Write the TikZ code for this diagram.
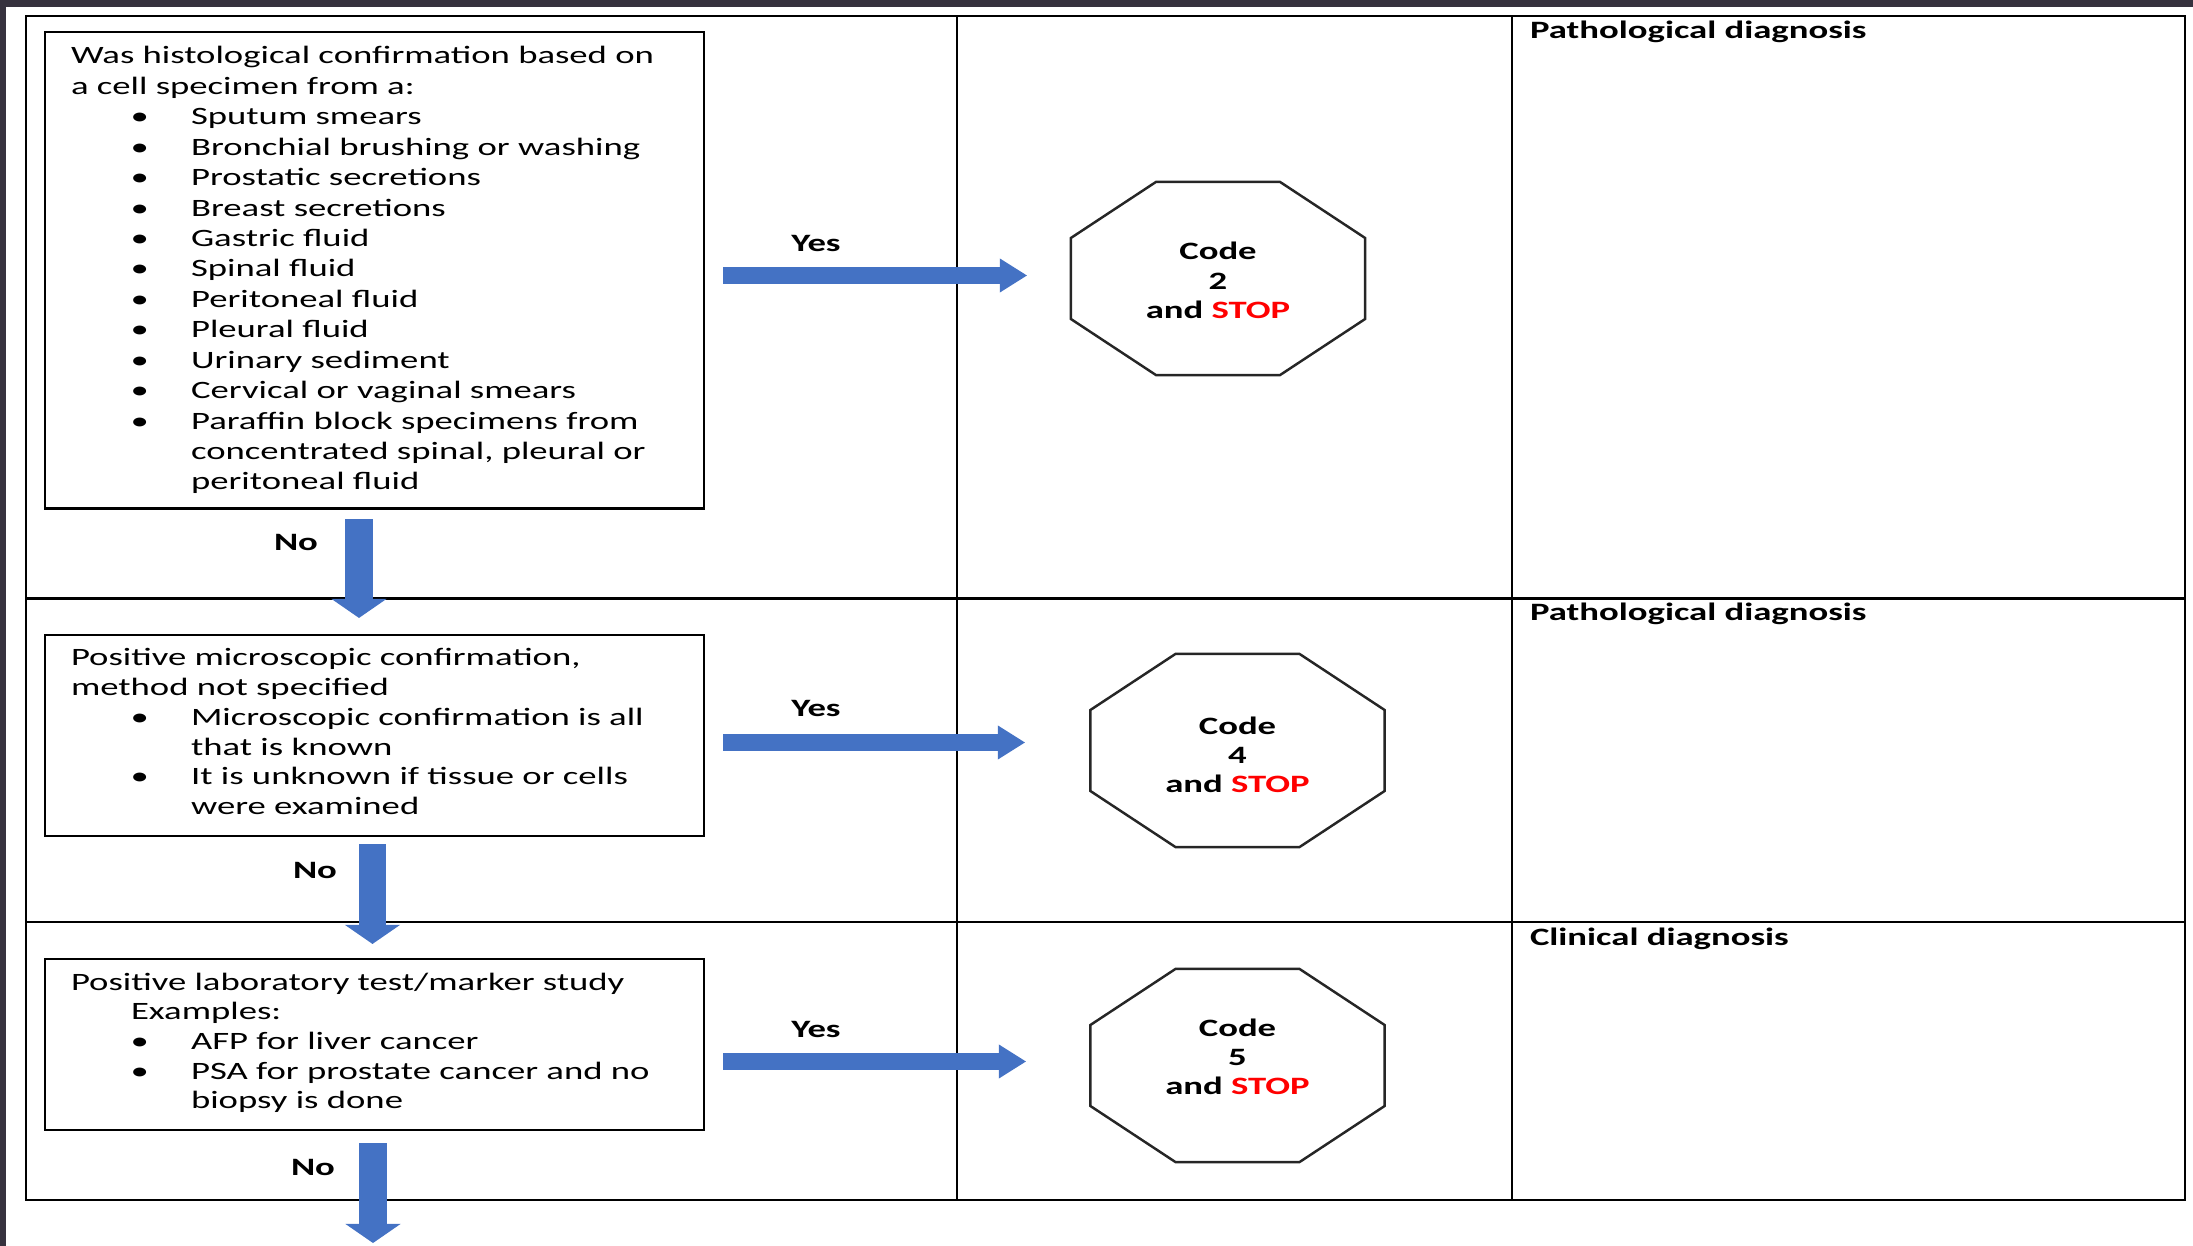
\documentclass[tikz,border=0pt]{standalone}
\usepackage{fontspec}
\setmainfont{Carlito}[FakeStretch=1.47]
\usetikzlibrary{arrows.meta}

\definecolor{arrowblue}{HTML}{4472C4}
\definecolor{framedark}{HTML}{36323E}
\definecolor{stopred}{HTML}{FF0000}

% bulleted line and its continuation inside a question box
\newcommand\bulline[1]{\hspace*{0.595cm}\makebox[0.605cm][l]{\textbullet}#1}
\newcommand\contline[1]{\hspace*{1.2cm}#1}

% octagonal outline drawn round a placeholder node
\newcommand\stopsign[1]{%
  \draw[octline] ([xshift=0.85cm]#1.north west) -- ([xshift=-0.85cm]#1.north east)
    -- ([yshift=-0.56cm]#1.north east) -- ([yshift=0.56cm]#1.south east)
    -- ([xshift=-0.85cm]#1.south east) -- ([xshift=0.85cm]#1.south west)
    -- ([yshift=0.56cm]#1.south west) -- ([yshift=-0.56cm]#1.north west) -- cycle;}

\begin{document}
\begin{tikzpicture}[x=0.01cm, y=-0.01cm,
  every node/.style={inner sep=0pt, outer sep=0pt},
  grid/.style={draw=black, line width=0.75pt},
  qbox/.style={draw=black, line width=0.7pt, rectangle, minimum width=6.59cm},
  body/.style={font=\fontsize{7.1pt}{8.65pt}\selectfont, text width=6.3cm, align=left, anchor=base west},
  bodytight/.style={body, font=\fontsize{7.1pt}{8.45pt}\selectfont},
  lbl/.style={font=\fontsize{7.1pt}{8.65pt}\selectfont\bfseries, anchor=base},
  head/.style={font=\fontsize{7.1pt}{8.65pt}\selectfont\bfseries, anchor=base west},
  codetxt/.style={font=\fontsize{7.1pt}{8.25pt}\selectfont\bfseries, text width=2.6cm, align=center, anchor=base},
  octbox/.style={rectangle, minimum width=2.94cm, minimum height=1.93cm},
  octline/.style={draw=black!85, line width=0.7pt, line join=miter},
  yesarrow/.style={draw=arrowblue, line width=0.16cm,
    -{Triangle[width=0.34cm, length=0.27cm, line width=0pt]}},
  noarrow/.style={draw=arrowblue, line width=0.27cm,
    -{Triangle[width=0.55cm, length=0.19cm, line width=0pt]}}
]
\useasboundingbox (0,0) rectangle (2193,1246);

% dark frame strips
\fill[framedark] (0,0) rectangle (2193,7);
\fill[framedark] (0,0) rectangle (6,1246);

% table grid
\draw[grid] (26,16) rectangle (2185,1200);
\draw[grid] (957,16) -- (957,1200);
\draw[grid] (1512,16) -- (1512,1200);
\draw[grid] (26,598.5) -- (2185,598.5);
\draw[grid] (26,922) -- (2185,922);

% question boxes
\node[qbox, minimum height=4.765cm] (q1) at (374.5,270.25) {};
\node[qbox, minimum height=2.01cm] (q2) at (374.5,735.5) {};
\node[qbox, minimum height=1.71cm] (q3) at (374.5,1044.5) {};

\node[body] (q1text) at (71,64) {Was histological confirmation based on\\
a cell specimen from a:\\
\bulline{Sputum smears}\\
\bulline{Bronchial brushing or washing}\\
\bulline{Prostatic secretions}\\
\bulline{Breast secretions}\\
\bulline{Gastric fluid}\\
\bulline{Spinal fluid}\\
\bulline{Peritoneal fluid}\\
\bulline{Pleural fluid}\\
\bulline{Urinary sediment}\\
\bulline{Cervical or vaginal smears}\\
\bulline{Paraffin block specimens from}\\
\contline{concentrated spinal, pleural or}\\
\contline{peritoneal fluid}};

\node[bodytight] (q2text) at (71,666) {Positive microscopic confirmation,\\
method not specified\\
\bulline{Microscopic confirmation is all}\\
\contline{that is known}\\
\bulline{It is unknown if tissue or cells}\\
\contline{were examined}};

\node[bodytight] (q3text) at (71,990) {Positive laboratory test/marker study\\
\hspace*{0.6cm}Examples:\\
\bulline{AFP for liver cancer}\\
\bulline{PSA for prostate cancer and no}\\
\contline{biopsy is done}};

% stop signs
\node[octbox] (s1) at (1218,278.5) {};
\node[octbox] (s2) at (1237.5,750.5) {};
\node[octbox] (s3) at (1237.5,1065.5) {};
\stopsign{s1}
\stopsign{s2}
\stopsign{s3}
\node[codetxt] (s1text) at (1218,260) {Code\\2\\and \textcolor{stopred}{STOP}};
\node[codetxt] (s2text) at (1237.5,734.3) {Code\\4\\and \textcolor{stopred}{STOP}};
\node[codetxt] (s3text) at (1237.5,1036.7) {Code\\5\\and \textcolor{stopred}{STOP}};

% diagnosis headings
\node[head] (h1) at (1530,39) {Pathological diagnosis};
\node[head] (h2) at (1530,620.7) {Pathological diagnosis};
\node[head] (h3) at (1530,945) {Clinical diagnosis};

% connectors
\draw[noarrow] ([shift={(-15.5,10.5)}]q1.south) -- ([shift={(-15.5,-17)}]q2.north);
\draw[noarrow] ([shift={(-2,8)}]q2.south) -- ([shift={(-2,-15)}]q3.north);
\coordinate (onward) at (373,1243);
\draw[noarrow] ([shift={(-1.5,13)}]q3.south) -- (onward);
\draw[yesarrow] ([shift={(19,5.25)}]q1.east) -- ([shift={(-44,-3)}]s1.west);
\draw[yesarrow] ([shift={(19,7)}]q2.east) -- ([shift={(-65.5,-8)}]s2.west);
\draw[yesarrow] ([shift={(19,17)}]q3.east) -- ([shift={(-64.5,-4)}]s3.west);

% connector labels
\node[lbl] (yes1) at (816,252) {Yes};
\node[lbl] (yes2) at (816,717) {Yes};
\node[lbl] (yes3) at (816,1037) {Yes};
\node[lbl] (no1) at (296,551) {No};
\node[lbl] (no2) at (315,878) {No};
\node[lbl] (no3) at (313,1175) {No};
\end{tikzpicture}
\end{document}
